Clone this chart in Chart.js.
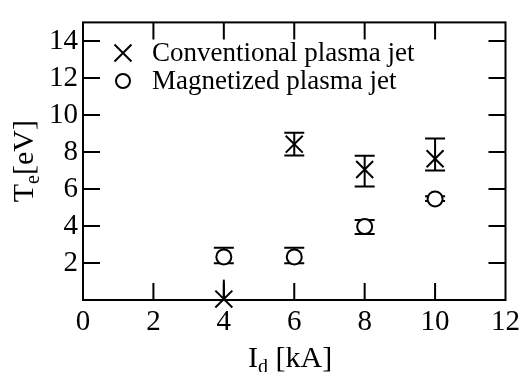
<!DOCTYPE html>
<html>
<head>
<meta charset="utf-8">
<script src="https://cdn.jsdelivr.net/npm/chart.js@4.4.1/dist/chart.umd.min.js"></script>
<style>
  html, body { margin: 0; padding: 0; background: #fff; }
  #wrap { width: 525px; height: 372px; }
</style>
</head>
<body>
<div id="wrap"><canvas id="chart" width="525" height="372"></canvas></div>
<script>
// data
const currents = [4, 6, 8, 10];           // I_d [kA]
const convTe   = [0.05, 8.42, 7.05, 7.63];
const convLow  = [0, 7.81, 6.13, 7.0];
const convHigh = [1.1, 9.04, 7.79, 8.72];
const magTe    = [2.33, 2.33, 3.97, 5.46];
const magLow   = [1.98, 1.98, 3.56, 5.35];
const magHigh  = [2.83, 2.83, 4.32, 5.6];
const seriesLabels = ['Conventional plasma jet', 'Magnetized plasma jet'];
const xTicks = [0, 2, 4, 6, 8, 10, 12];
const yTicks = [2, 4, 6, 8, 10, 12, 14];

const serif = '"Liberation Serif", "DejaVu Serif", serif';

const toPoints = (ys, lo, hi) => currents.map((x, i) => ({ x: x, y: ys[i], lo: lo[i], hi: hi[i] }));

// error bars, frame, inner ticks, legend and axis titles
const decor = {
  id: 'decor',
  beforeDatasetsDraw(chart) {
    const ctx = chart.ctx;
    const xs = chart.scales.x, ys = chart.scales.y;
    ctx.save();
    ctx.strokeStyle = '#000';
    ctx.lineWidth = 2;
    chart.data.datasets.forEach(ds => {
      ds.data.forEach(p => {
        const px = xs.getPixelForValue(p.x);
        const top = ys.getPixelForValue(p.hi);
        const bot = ys.getPixelForValue(p.lo);
        ctx.beginPath();
        ctx.moveTo(px, top); ctx.lineTo(px, bot);
        // the bar that runs into the axis has no caps in the original
        if (p.lo > 0) {
          ctx.moveTo(px - 10, top); ctx.lineTo(px + 10, top);
          ctx.moveTo(px - 10, bot); ctx.lineTo(px + 10, bot);
        }
        ctx.stroke();
      });
    });
    ctx.restore();
  },
  afterDraw(chart) {
    const ctx = chart.ctx;
    const a = chart.chartArea;
    const xs = chart.scales.x, ys = chart.scales.y;
    const len = 17;
    ctx.save();
    ctx.strokeStyle = '#000';
    ctx.lineWidth = 2;
    ctx.strokeRect(a.left, a.top, a.right - a.left, a.bottom - a.top);
    ctx.beginPath();
    xTicks.filter(v => v > 0 && v < 12).forEach(v => {
      const px = xs.getPixelForValue(v);
      ctx.moveTo(px, a.bottom); ctx.lineTo(px, a.bottom - len);
      ctx.moveTo(px, a.top); ctx.lineTo(px, a.top + len);
    });
    yTicks.forEach(v => {
      const py = ys.getPixelForValue(v);
      ctx.moveTo(a.left, py); ctx.lineTo(a.left + len, py);
      ctx.moveTo(a.right, py); ctx.lineTo(a.right - len, py);
    });
    ctx.stroke();

    // legend
    ctx.fillStyle = '#000';
    ctx.font = '27px ' + serif;
    ctx.textBaseline = 'middle';
    ctx.textAlign = 'left';
    const rows = [53, 81];
    chart.data.datasets.forEach((ds, i) => {
      const cy = rows[i], cx = 123;
      ctx.beginPath();
      if (ds.pointStyle === 'crossRot') {
        ctx.moveTo(cx - 8.5, cy - 8.5); ctx.lineTo(cx + 8.5, cy + 8.5);
        ctx.moveTo(cx + 8.5, cy - 8.5); ctx.lineTo(cx - 8.5, cy + 8.5);
      } else {
        ctx.arc(cx, cy, 7, 0, Math.PI * 2);
      }
      ctx.stroke();
      ctx.fillText(ds.label, 152, cy + 1);
    });

    // x title: I_d [kA]
    ctx.textBaseline = 'alphabetic';
    ctx.font = '30px ' + serif;
    const w1 = ctx.measureText('I').width;
    ctx.font = '20px ' + serif;
    const w2 = ctx.measureText('d').width;
    ctx.font = '30px ' + serif;
    const w3 = ctx.measureText(' [kA]').width;
    let sx = 248;
    const by = 367;
    ctx.fillText('I', sx, by);
    ctx.font = '20px ' + serif;
    ctx.fillText('d', sx + w1, by + 6);
    ctx.font = '30px ' + serif;
    ctx.fillText(' [kA]', sx + w1 + w2, by);

    // y title: T_e[eV]
    ctx.translate(33, (a.top + a.bottom) / 2);
    ctx.rotate(-Math.PI / 2);
    ctx.font = '30px ' + serif;
    const t1 = ctx.measureText('T').width;
    ctx.font = '20px ' + serif;
    const t2 = ctx.measureText('e').width;
    ctx.font = '30px ' + serif;
    const t3 = ctx.measureText('[eV]').width;
    sx = -(t1 + t2 + t3) / 2;
    ctx.fillText('T', sx, 0);
    ctx.font = '20px ' + serif;
    ctx.fillText('e', sx + t1, 6);
    ctx.font = '30px ' + serif;
    ctx.fillText('[eV]', sx + t1 + t2, 0);
    ctx.restore();
  }
};

new Chart(document.getElementById('chart'), {
  type: 'scatter',
  data: {
    datasets: [
      {
        label: seriesLabels[0],
        data: toPoints(convTe, convLow, convHigh),
        pointStyle: 'crossRot',
        pointRadius: 12,
        pointHoverRadius: 12,
        pointBorderWidth: 2,
        borderColor: '#000',
        backgroundColor: '#000',
        clip: false
      },
      {
        label: seriesLabels[1],
        data: toPoints(magTe, magLow, magHigh),
        pointStyle: 'circle',
        pointRadius: 7.5,
        pointHoverRadius: 7.5,
        pointBorderWidth: 2,
        borderColor: '#000',
        backgroundColor: '#fff',
        clip: false
      }
    ]
  },
  options: {
    responsive: false,
    animation: false,
    events: [],
    layout: { padding: { top: 16, right: 18, left: 0, bottom: 0 } },
    plugins: { legend: { display: false }, tooltip: { enabled: false } },
    scales: {
      x: {
        type: 'linear',
        min: 0, max: 12,
        afterBuildTicks: s => { s.ticks = xTicks.map(v => ({ value: v })); },
        afterFit: s => { s.height = 72; },
        grid: { display: false, drawTicks: false },
        border: { display: false },
        ticks: { color: '#000', padding: 5, font: { family: serif, size: 29 }, maxRotation: 0 }
      },
      y: {
        type: 'linear',
        min: 0, max: 15,
        afterBuildTicks: s => { s.ticks = yTicks.map(v => ({ value: v })); },
        afterFit: s => { s.width = 83; },
        grid: { display: false, drawTicks: false },
        border: { display: false },
        ticks: { color: '#000', padding: 5, font: { family: serif, size: 29 } }
      }
    }
  },
  plugins: [decor]
});
</script>
</body>
</html>
